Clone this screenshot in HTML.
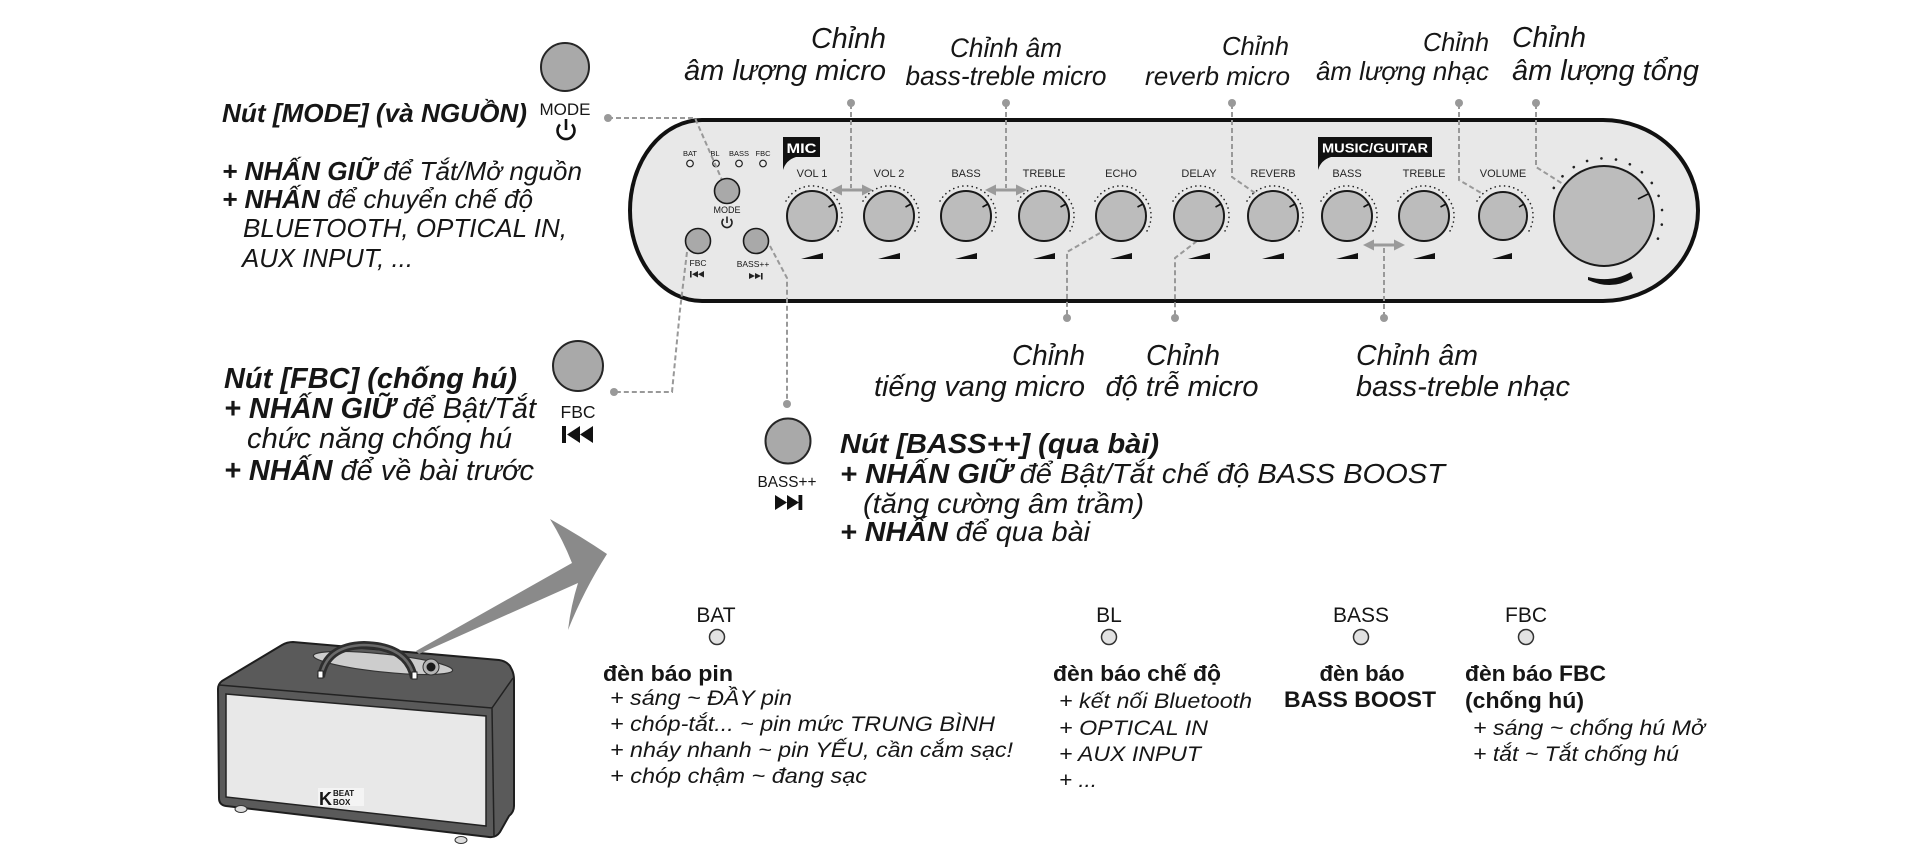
<!DOCTYPE html>
<html><head><meta charset="utf-8"><style>
html,body{margin:0;padding:0;background:#fff;}
svg{display:block;}
text{font-family:"Liberation Sans","DejaVu Sans",sans-serif;fill:#161616;}
.it{font-style:italic;}
.b{font-weight:bold;}
.kl{font-size:11px;text-anchor:middle;fill:#262626;}
.ld{stroke:#999;stroke-width:2;stroke-dasharray:5 3;fill:none;}
.dot{fill:#999;}
.knob{fill:#bcbcbc;stroke:#1a1a1a;stroke-width:2;}
.dots{fill:none;stroke:#222;stroke-width:1.6;stroke-dasharray:0.1 4.6;stroke-linecap:round;}
.tick{stroke:#111;stroke-width:1.6;}
.btn{fill:#a9a9a9;stroke:#262626;stroke-width:2;}
.sbtn{fill:#a9a9a9;stroke:#1a1a1a;stroke-width:1.6;}
.led{fill:#e2e2e2;stroke:#333;stroke-width:1.5;}
.arr{stroke:#9a9a9a;stroke-width:3;}
.arh{fill:#9a9a9a;}
</style></head><body>
<svg width="1920" height="850" viewBox="0 0 1920 850" xmlns="http://www.w3.org/2000/svg">

<!-- ===== Panel ===== -->
<path d="M702,120 L1603,120 A95,90.5 0 0 1 1603,301 L702,301 A72,90.5 0 0 1 702,120 Z" fill="#e8e8e8" stroke="#111" stroke-width="4"/>

<!-- panel LEDs -->
<text x="690" y="156" font-size="7.5" text-anchor="middle" fill="#333">BAT</text>
<text x="715" y="156" font-size="7.5" text-anchor="middle" fill="#333">BL</text>
<text x="739" y="156" font-size="7.5" text-anchor="middle" fill="#333">BASS</text>
<text x="763" y="156" font-size="7.5" text-anchor="middle" fill="#333">FBC</text>
<circle cx="690" cy="163.5" r="3.3" fill="#eee" stroke="#222" stroke-width="1.2"/>
<circle cx="716" cy="163.5" r="3.3" fill="#eee" stroke="#222" stroke-width="1.2"/>
<circle cx="739" cy="163.5" r="3.3" fill="#eee" stroke="#222" stroke-width="1.2"/>
<circle cx="763" cy="163.5" r="3.3" fill="#eee" stroke="#222" stroke-width="1.2"/>

<!-- leader lines -->
<path class="ld" d="M608,118 L695,118 L722,180"/>
<circle class="dot" cx="608" cy="118" r="4"/>
<path class="ld" d="M851,104 L851,188"/>
<circle class="dot" cx="851" cy="103" r="4"/>
<path class="ld" d="M1006,104 L1006,188"/>
<circle class="dot" cx="1006" cy="103" r="4"/>
<path class="ld" d="M1232,104 L1232,177 L1255,193"/>
<circle class="dot" cx="1232" cy="103" r="4"/>
<path class="ld" d="M1459,104 L1459,180 L1483,194"/>
<circle class="dot" cx="1459" cy="103" r="4"/>
<path class="ld" d="M1536,104 L1536,167 L1563,184"/>
<circle class="dot" cx="1536" cy="103" r="4"/>
<path class="ld" d="M1100,233 L1067,252 L1067,317"/>
<circle class="dot" cx="1067" cy="318" r="4"/>
<path class="ld" d="M1197,241 L1175,258 L1175,317"/>
<circle class="dot" cx="1175" cy="318" r="4"/>
<path class="ld" d="M1384,248 L1384,317"/>
<circle class="dot" cx="1384" cy="318" r="4"/>
<path class="ld" d="M687,252 L680,310 L672,392 L615,392"/>
<circle class="dot" cx="614" cy="392" r="4"/>
<path class="ld" d="M770,246 L787,278 L787,403"/>
<circle class="dot" cx="787" cy="404" r="4"/>

<!-- MIC tag -->
<rect x="783" y="137" width="37" height="20" fill="#111"/>
<path d="M783,156 L783,170 Q786,160 796,157 Z" fill="#111"/>
<text x="801.5" y="153" font-size="14" class="b" text-anchor="middle" style="fill:#fff" textLength="30" lengthAdjust="spacingAndGlyphs">MIC</text>
<!-- MUSIC/GUITAR tag -->
<rect x="1318" y="137" width="114" height="20" fill="#111"/>
<path d="M1318,156 L1318,170 Q1321,160 1331,157 Z" fill="#111"/>
<text x="1375" y="152.5" font-size="13" class="b" text-anchor="middle" style="fill:#fff" textLength="106" lengthAdjust="spacingAndGlyphs">MUSIC/GUITAR</text>

<!-- small panel buttons -->
<circle class="sbtn" cx="727" cy="191" r="12.5"/>
<text x="727" y="213" font-size="9" text-anchor="middle" fill="#333">MODE</text>
<path d="M723.5,219 A5,5 0 1 0 730.5,219" fill="none" stroke="#222" stroke-width="1.6"/>
<line x1="727" y1="216.5" x2="727" y2="223" stroke="#222" stroke-width="1.6"/>
<circle class="sbtn" cx="698" cy="241" r="12.5"/>
<text x="698" y="266" font-size="8.5" text-anchor="middle" fill="#333">FBC</text>
<rect x="690" y="271" width="1.6" height="6.5" fill="#222"/>
<polygon points="692,274.2 698,271 698,277.5" fill="#222"/>
<polygon points="698,274.2 704,271 704,277.5" fill="#222"/>
<circle class="sbtn" cx="756" cy="241" r="12.5"/>
<text x="753" y="267" font-size="8.5" text-anchor="middle" fill="#333">BASS++</text>
<polygon points="749,273 755,276 749,279" fill="#222"/>
<polygon points="755,273 761,276 755,279" fill="#222"/>
<rect x="761" y="273" width="1.6" height="6.5" fill="#222"/>

<!-- knobs -->
<g transform="translate(812,216)"><path class="dots" d="M-25.98,-15 A30,30 0 1 1 24.57,17.2"/><circle class="knob" r="25"/><line class="tick" x1="16.5" y1="-9" x2="22" y2="-12"/><polygon points="-11,43 11,43 11,37" fill="#111"/><text class="kl" y="-39">VOL 1</text></g>
<g transform="translate(889,216)"><path class="dots" d="M-25.98,-15 A30,30 0 1 1 24.57,17.2"/><circle class="knob" r="25"/><line class="tick" x1="16.5" y1="-9" x2="22" y2="-12"/><polygon points="-11,43 11,43 11,37" fill="#111"/><text class="kl" y="-39">VOL 2</text></g>
<g transform="translate(966,216)"><path class="dots" d="M-25.98,-15 A30,30 0 1 1 24.57,17.2"/><circle class="knob" r="25"/><line class="tick" x1="16.5" y1="-9" x2="22" y2="-12"/><polygon points="-11,43 11,43 11,37" fill="#111"/><text class="kl" y="-39">BASS</text></g>
<g transform="translate(1044,216)"><path class="dots" d="M-25.98,-15 A30,30 0 1 1 24.57,17.2"/><circle class="knob" r="25"/><line class="tick" x1="16.5" y1="-9" x2="22" y2="-12"/><polygon points="-11,43 11,43 11,37" fill="#111"/><text class="kl" y="-39">TREBLE</text></g>
<g transform="translate(1121,216)"><path class="dots" d="M-25.98,-15 A30,30 0 1 1 24.57,17.2"/><circle class="knob" r="25"/><line class="tick" x1="16.5" y1="-9" x2="22" y2="-12"/><polygon points="-11,43 11,43 11,37" fill="#111"/><text class="kl" y="-39">ECHO</text></g>
<g transform="translate(1199,216)"><path class="dots" d="M-25.98,-15 A30,30 0 1 1 24.57,17.2"/><circle class="knob" r="25"/><line class="tick" x1="16.5" y1="-9" x2="22" y2="-12"/><polygon points="-11,43 11,43 11,37" fill="#111"/><text class="kl" y="-39">DELAY</text></g>
<g transform="translate(1273,216)"><path class="dots" d="M-25.98,-15 A30,30 0 1 1 24.57,17.2"/><circle class="knob" r="25"/><line class="tick" x1="16.5" y1="-9" x2="22" y2="-12"/><polygon points="-11,43 11,43 11,37" fill="#111"/><text class="kl" y="-39">REVERB</text></g>
<g transform="translate(1347,216)"><path class="dots" d="M-25.98,-15 A30,30 0 1 1 24.57,17.2"/><circle class="knob" r="25"/><line class="tick" x1="16.5" y1="-9" x2="22" y2="-12"/><polygon points="-11,43 11,43 11,37" fill="#111"/><text class="kl" y="-39">BASS</text></g>
<g transform="translate(1424,216)"><path class="dots" d="M-25.98,-15 A30,30 0 1 1 24.57,17.2"/><circle class="knob" r="25"/><line class="tick" x1="16.5" y1="-9" x2="22" y2="-12"/><polygon points="-11,43 11,43 11,37" fill="#111"/><text class="kl" y="-39">TREBLE</text></g>
<g transform="translate(1503,216)"><path class="dots" d="M-25.98,-15 A30,30 0 1 1 24.57,17.2"/><circle class="knob" r="24"/><line class="tick" x1="16" y1="-9" x2="21" y2="-12"/><polygon points="-11,43 9,43 9,37" fill="#111"/><text class="kl" y="-39">VOLUME</text></g>

<!-- big knob -->
<path d="M1553.8,188 A58,58 0 1 1 1653.2,247.7" fill="none" stroke="#222" stroke-width="2.6" stroke-dasharray="0.1 14.5" stroke-linecap="round"/>
<circle class="knob" cx="1604" cy="216" r="50"/>
<line class="tick" x1="1638" y1="199" x2="1648" y2="194"/>
<path d="M1588,277 Q1612,283 1631,272 L1633,278 Q1612,291 1588,280 Z" fill="#111"/>

<!-- double arrows -->
<line class="arr" x1="840" y1="190" x2="864" y2="190"/>
<polygon class="arh" points="831,190 842,184.5 842,195.5"/>
<polygon class="arh" points="873,190 862,184.5 862,195.5"/>
<line class="arr" x1="994" y1="190" x2="1018" y2="190"/>
<polygon class="arh" points="985,190 996,184.5 996,195.5"/>
<polygon class="arh" points="1027,190 1016,184.5 1016,195.5"/>
<line class="arr" x1="1372" y1="245" x2="1396" y2="245"/>
<polygon class="arh" points="1363,245 1374,239.5 1374,250.5"/>
<polygon class="arh" points="1405,245 1394,239.5 1394,250.5"/>

<!-- ===== Top labels ===== -->
<g class="it">
<text x="886" y="48" font-size="28.5" text-anchor="end" textLength="75" lengthAdjust="spacingAndGlyphs">Chỉnh</text>
<text x="886" y="80" font-size="28.5" text-anchor="end" textLength="202" lengthAdjust="spacingAndGlyphs">âm lượng micro</text>
<text x="1006" y="57" font-size="26.5" text-anchor="middle" textLength="112" lengthAdjust="spacingAndGlyphs">Chỉnh âm</text>
<text x="1006" y="85" font-size="26.5" text-anchor="middle" textLength="201" lengthAdjust="spacingAndGlyphs">bass-treble micro</text>
<text x="1289" y="55" font-size="26" text-anchor="end" textLength="67" lengthAdjust="spacingAndGlyphs">Chỉnh</text>
<text x="1290" y="85" font-size="26" text-anchor="end" textLength="145" lengthAdjust="spacingAndGlyphs">reverb micro</text>
<text x="1489" y="51" font-size="26" text-anchor="end" textLength="66" lengthAdjust="spacingAndGlyphs">Chỉnh</text>
<text x="1489" y="80" font-size="26" text-anchor="end" textLength="173" lengthAdjust="spacingAndGlyphs">âm lượng nhạc</text>
<text x="1512" y="47" font-size="28.5" textLength="74" lengthAdjust="spacingAndGlyphs">Chỉnh</text>
<text x="1512" y="80" font-size="28.5" textLength="187" lengthAdjust="spacingAndGlyphs">âm lượng tổng</text>

<!-- bottom labels under panel -->
<text x="1085" y="365" font-size="28.5" text-anchor="end" textLength="73" lengthAdjust="spacingAndGlyphs">Chỉnh</text>
<text x="1085" y="396" font-size="28.5" text-anchor="end" textLength="211" lengthAdjust="spacingAndGlyphs">tiếng vang micro</text>
<text x="1183" y="365" font-size="28.5" text-anchor="middle" textLength="74" lengthAdjust="spacingAndGlyphs">Chỉnh</text>
<text x="1182" y="396" font-size="28.5" text-anchor="middle" textLength="153" lengthAdjust="spacingAndGlyphs">độ trễ micro</text>
<text x="1356" y="365" font-size="28.5" textLength="122" lengthAdjust="spacingAndGlyphs">Chỉnh âm</text>
<text x="1356" y="396" font-size="28.5" textLength="214" lengthAdjust="spacingAndGlyphs">bass-treble nhạc</text>
</g>

<!-- ===== MODE callout ===== -->
<circle class="btn" cx="565" cy="67" r="24"/>
<text x="565" y="115" font-size="16.5" text-anchor="middle" textLength="51" lengthAdjust="spacingAndGlyphs">MODE</text>
<path d="M560,124.5 A8.5,8.5 0 1 0 572,124.5" fill="none" stroke="#111" stroke-width="2.6"/>
<line x1="566" y1="119" x2="566" y2="130" stroke="#111" stroke-width="2.6"/>

<g class="it" font-size="26">
<text x="222" y="122" class="b" textLength="305" lengthAdjust="spacingAndGlyphs">Nút [MODE] (và NGUỒN)</text>
<text x="222" y="180" textLength="360" lengthAdjust="spacingAndGlyphs"><tspan class="b">+ NHẤN GIỮ</tspan> để Tắt/Mở nguồn</text>
<text x="222" y="208" textLength="311" lengthAdjust="spacingAndGlyphs"><tspan class="b">+ NHẤN</tspan> để chuyển chế độ</text>
<text x="243" y="237" textLength="324" lengthAdjust="spacingAndGlyphs">BLUETOOTH, OPTICAL IN,</text>
<text x="242" y="267" textLength="171" lengthAdjust="spacingAndGlyphs">AUX INPUT, ...</text>
</g>

<!-- ===== FBC callout ===== -->
<circle class="btn" cx="578" cy="366" r="25"/>
<text x="578" y="418" font-size="17.5" text-anchor="middle" textLength="35" lengthAdjust="spacingAndGlyphs">FBC</text>
<rect x="562" y="426" width="4" height="17" fill="#111"/>
<polygon points="567,434.5 580,426 580,443" fill="#111"/>
<polygon points="580,434.5 593,426 593,443" fill="#111"/>

<g class="it" font-size="28.5">
<text x="224" y="388" class="b" textLength="293" lengthAdjust="spacingAndGlyphs">Nút [FBC] (chống hú)</text>
<text x="224" y="418" textLength="312" lengthAdjust="spacingAndGlyphs"><tspan class="b">+ NHẤN GIỮ</tspan> để Bật/Tắt</text>
<text x="247" y="448" textLength="265" lengthAdjust="spacingAndGlyphs">chức năng chống hú</text>
<text x="224" y="480" textLength="310" lengthAdjust="spacingAndGlyphs"><tspan class="b">+ NHẤN</tspan> để về bài trước</text>
</g>

<!-- ===== BASS++ callout ===== -->
<circle class="btn" cx="788" cy="441" r="22.5"/>
<text x="787" y="487" font-size="15.5" text-anchor="middle" textLength="59" lengthAdjust="spacingAndGlyphs">BASS++</text>
<polygon points="775,495 787,502.5 775,510" fill="#111"/>
<polygon points="787,495 799,502.5 787,510" fill="#111"/>
<rect x="798.5" y="495" width="3.8" height="15" fill="#111"/>

<g class="it" font-size="28">
<text x="840" y="453" class="b" textLength="319" lengthAdjust="spacingAndGlyphs">Nút [BASS++] (qua bài)</text>
<text x="840" y="483" textLength="605" lengthAdjust="spacingAndGlyphs"><tspan class="b">+ NHẤN GIỮ</tspan> để Bật/Tắt chế độ BASS BOOST</text>
<text x="863" y="513" textLength="281" lengthAdjust="spacingAndGlyphs">(tăng cường âm trầm)</text>
<text x="840" y="541" textLength="250" lengthAdjust="spacingAndGlyphs"><tspan class="b">+ NHẤN</tspan> để qua bài</text>
</g>

<!-- ===== Speaker ===== -->
<path d="M222,681 L282,645 Q287,642 293,642 L499,660 Q506,661 510,666 L512,670 Q514,674 514,680 L514,806 Q514,812 509,816 L500,832 Q496,838 489,837 L226,806 Q219,805 219,798 L218,689 Q218,684 222,681 Z" fill="#5a5a5a" stroke="#1e1e1e" stroke-width="2"/>
<path d="M219,685 L492,708 L513,678 M492,708 L494,836" fill="none" stroke="#222" stroke-width="1.5"/>
<path d="M226,694 L486,716 L486,826 L226,797 Z" fill="#e8e8e8" stroke="#222" stroke-width="1.5"/>
<ellipse cx="383" cy="663" rx="70" ry="9" transform="rotate(6 383 663)" fill="#cdcdcd" stroke="#333" stroke-width="1.2"/>
<circle cx="431" cy="667" r="8" fill="#b5b5b5" stroke="#333" stroke-width="1"/>
<circle cx="431" cy="667" r="4.5" fill="#1a1a1a"/>
<path d="M321,677 Q326,646 364,645 Q408,646 414,678" fill="none" stroke="#2e2e2e" stroke-width="8"/>
<path d="M321,677 Q326,646 364,645 Q408,646 414,678" fill="none" stroke="#6a6a6a" stroke-width="2.5"/>
<rect x="318" y="671" width="5" height="7" fill="#fff" stroke="#222" stroke-width="1"/>
<rect x="412" y="672" width="5" height="7" fill="#fff" stroke="#222" stroke-width="1"/>
<rect x="318" y="788" width="46" height="18" fill="#f4f4f4"/>
<text x="319" y="805" font-size="18" class="b" fill="#333">K</text>
<text x="333" y="796" font-size="8" class="b" fill="#333">BEAT</text>
<text x="333" y="805" font-size="8" class="b" fill="#333">BOX</text>
<ellipse cx="241" cy="809" rx="6" ry="3.5" fill="#ddd" stroke="#333" stroke-width="1"/>
<ellipse cx="461" cy="840" rx="6" ry="3.5" fill="#ddd" stroke="#333" stroke-width="1"/>

<!-- big arrow -->
<path d="M416,651 L572,563 Q563,540 550,519 Q582,537 607,554 Q584,590 568,630 Q571,605 578,583 L419,654 Z" fill="#8a8a8a"/>

<!-- ===== LED legend ===== -->
<text x="716" y="622" font-size="21" text-anchor="middle">BAT</text>
<circle class="led" cx="717" cy="637" r="7.5"/>
<text x="1109" y="622" font-size="21" text-anchor="middle">BL</text>
<circle class="led" cx="1109" cy="637" r="7.5"/>
<text x="1361" y="622" font-size="21" text-anchor="middle">BASS</text>
<circle class="led" cx="1361" cy="637" r="7.5"/>
<text x="1526" y="622" font-size="21" text-anchor="middle">FBC</text>
<circle class="led" cx="1526" cy="637" r="7.5"/>

<text x="603" y="681" font-size="22" class="b" textLength="130" lengthAdjust="spacingAndGlyphs">đèn báo pin</text>
<g class="it" font-size="21.5">
<text x="610" y="705" textLength="182" lengthAdjust="spacingAndGlyphs">+ sáng ~ ĐẦY pin</text>
<text x="610" y="731" textLength="385" lengthAdjust="spacingAndGlyphs">+ chóp-tắt... ~ pin mức TRUNG BÌNH</text>
<text x="610" y="757" textLength="403" lengthAdjust="spacingAndGlyphs">+ nháy nhanh ~ pin YẾU, cần cắm sạc!</text>
<text x="610" y="783" textLength="257" lengthAdjust="spacingAndGlyphs">+ chóp chậm ~ đang sạc</text>
</g>

<text x="1053" y="681" font-size="22" class="b" textLength="168" lengthAdjust="spacingAndGlyphs">đèn báo chế độ</text>
<g class="it" font-size="21.5">
<text x="1059" y="708" textLength="193" lengthAdjust="spacingAndGlyphs">+ kết nối Bluetooth</text>
<text x="1059" y="735" textLength="149" lengthAdjust="spacingAndGlyphs">+ OPTICAL IN</text>
<text x="1059" y="761" textLength="142" lengthAdjust="spacingAndGlyphs">+ AUX INPUT</text>
<text x="1059" y="787" textLength="38" lengthAdjust="spacingAndGlyphs">+ ...</text>
</g>

<text x="1362" y="681" font-size="22" class="b" text-anchor="middle" textLength="85" lengthAdjust="spacingAndGlyphs">đèn báo</text>
<text x="1360" y="707" font-size="22" class="b" text-anchor="middle" textLength="152" lengthAdjust="spacingAndGlyphs">BASS BOOST</text>

<text x="1465" y="681" font-size="22" class="b" textLength="141" lengthAdjust="spacingAndGlyphs">đèn báo FBC</text>
<text x="1465" y="708" font-size="22" class="b" textLength="119" lengthAdjust="spacingAndGlyphs">(chống hú)</text>
<g class="it" font-size="21.5">
<text x="1473" y="735" textLength="232" lengthAdjust="spacingAndGlyphs">+ sáng ~ chống hú Mở</text>
<text x="1473" y="761" textLength="206" lengthAdjust="spacingAndGlyphs">+ tắt ~ Tắt chống hú</text>
</g>

</svg>
</body></html>
